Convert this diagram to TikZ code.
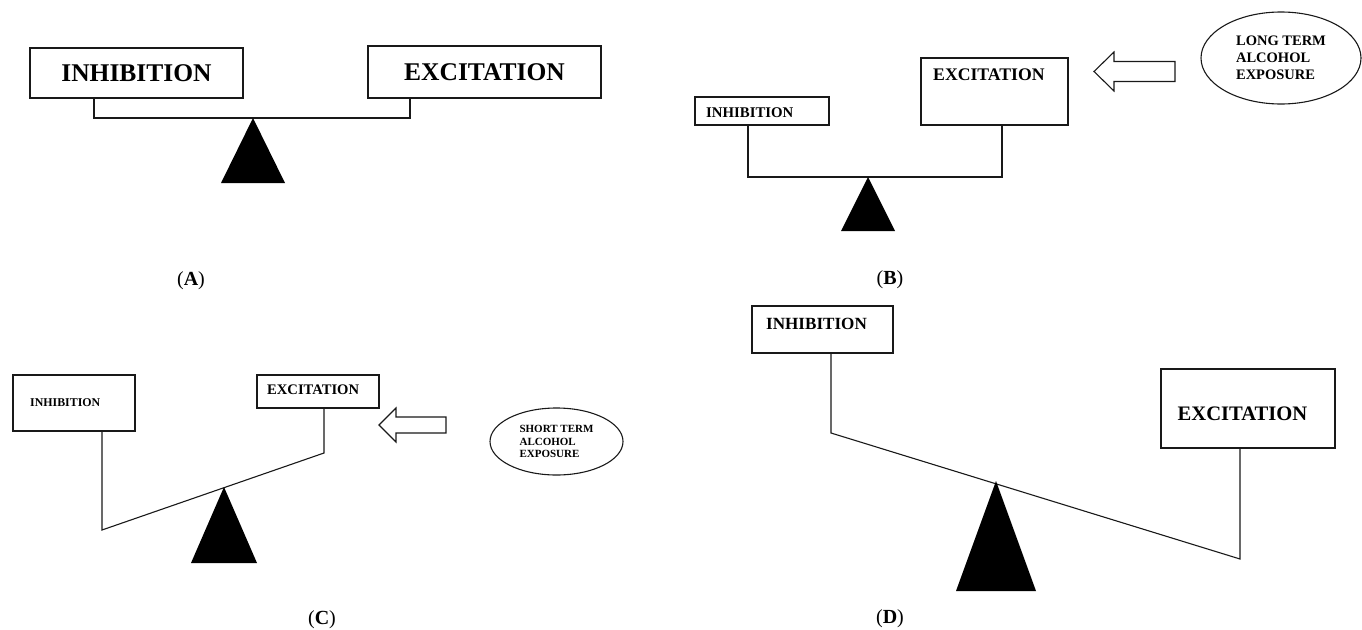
\documentclass[tikz,border=0pt]{standalone}
\usepackage{fontspec}
\setmainfont{Liberation Serif}
\usetikzlibrary{shapes.geometric}

\begin{document}
\begin{tikzpicture}[
        x = 1pt,
        y = -1pt
    ]

        \definecolor{fulcrum}{RGB}{0,0,0}
        \definecolor{scaleline}{RGB}{25,25,25}

        \tikzset{%
            scalebox/.style = {%
                rectangle,
                draw       = scaleline,
                line width = 1.1pt,
                inner sep  = 0pt
            },
            boxtext/.style = {%
                inner sep = 0pt,
                font      = \bfseries\fontsize{#1}{#1}\selectfont
            },
            beam/.style = {%
                draw       = scaleline,
                line width = 1.1pt,
                line join  = miter
            },
            exposure/.style = {%
                ellipse,
                draw       = scaleline,
                line width = 1.1pt,
                inner sep  = 0pt,
                align      = left
            },
            hollowarrow/.style = {%
                draw       = scaleline,
                line width = 1.1pt,
                fill       = white
            },
            panellabel/.style = {%
                inner sep = 0pt,
                font      = \fontsize{20}{20}\selectfont
            }
        }

        \useasboundingbox (0, 0) rectangle (1362, 629);

        % (A) balance
        \node[scalebox, line width = 1.8pt, minimum width = 213, minimum height = 50] (inhA) at (136.5, 73) {};
        \node[scalebox, line width = 1.8pt, minimum width = 233, minimum height = 52] (excA) at (484.5, 72) {};
        \node[boxtext = 25.5] (inhAtext) at (inhA.center) {INHIBITION};
        \node[boxtext = 25.5] (excAtext) at (excA.center) {EXCITATION};
        \coordinate (beamAl) at (94, 118);
        \coordinate (beamAr) at (410, 118);
        \draw[beam, line width = 1.6pt] (beamAl |- inhA.south) -- (beamAl) -- (beamAr) -- (beamAr |- excA.south);
        \node[panellabel] (labA) at (191, 281) {(\textbf{A})};

        % (B) long term exposure
        \node[scalebox, minimum width = 134, minimum height = 28] (inhB) at (762, 111) {};
        \node[scalebox, minimum width = 147, minimum height = 67] (excB) at (994.5, 91.5) {};
        \node[boxtext = 14.8, anchor = west] (inhBtext) at (706, 113) {INHIBITION};
        \node[boxtext = 17.7, anchor = west] (excBtext) at (933, 75) {EXCITATION};
        \coordinate (beamBl) at (748, 177);
        \coordinate (beamBr) at (1002, 177);
        \draw[beam] (beamBl |- inhB.south) -- (beamBl) -- (beamBr) -- (beamBr |- excB.south);
        \node[exposure, minimum width = 160, minimum height = 92,
            font = \bfseries\fontsize{14.5}{17}\selectfont] (longB) at (1281, 58)
            {LONG TERM\\ALCOHOL\\EXPOSURE};
        \node[panellabel] (labB) at (890, 280) {(\textbf{B})};

        % (C) short term exposure
        \node[scalebox, minimum width = 122, minimum height = 56] (inhC) at (74, 403) {};
        \node[scalebox, minimum width = 122, minimum height = 33] (excC) at (318, 391.5) {};
        \node[boxtext = 11.9, anchor = west] (inhCtext) at (30, 403) {INHIBITION};
        \node[boxtext = 14.6, anchor = west] (excCtext) at (267, 390) {EXCITATION};
        \coordinate (beamCl) at (102, 530);
        \coordinate (beamCr) at (324, 453);
        \draw[beam] (beamCl |- inhC.south) -- (beamCl) -- (beamCr) -- (beamCr |- excC.south);
        \node[exposure, minimum width = 133, minimum height = 67,
            font = \bfseries\fontsize{11}{12.7}\selectfont] (shortC) at (556.5, 441.5)
            {SHORT TERM\\ALCOHOL\\EXPOSURE};
        \node[panellabel] (labC) at (322, 620) {(\textbf{C})};

        % (D) tipped balance
        \node[scalebox, minimum width = 141, minimum height = 47] (inhD) at (822.5, 329.5) {};
        \node[scalebox, minimum width = 174, minimum height = 79] (excD) at (1248, 408.5) {};
        \node[boxtext = 17.1] (inhDtext) at (816.5, 324) {INHIBITION};
        \node[boxtext = 20.6] (excDtext) at (1242.5, 414) {EXCITATION};
        \coordinate (beamDl) at (831, 433);
        \coordinate (beamDr) at (1240, 559);
        \draw[beam] (beamDl |- inhD.south) -- (beamDl) -- (beamDr) -- (beamDr |- excD.south);
        \node[panellabel] (labD) at (890, 619) {(\textbf{D})};

        % fulcrums
        \foreach \ax/\ay/\hw/\by in {253/118/32/183, 868/177/27/231, 224/487/33/563, 996/481/40/591} {
            \fill[fulcrum] (\ax, \ay) -- (\ax - \hw, \by) -- (\ax + \hw, \by) -- cycle;
        }

        % hollow arrows towards the excitation boxes
        \foreach \tx/\ty/\hx/\ex/\hh/\sh in {1094/71.5/1114/1175/19.5/10, 379/425/396/446/17/8} {
            \draw[hollowarrow] (\tx, \ty) -- (\hx, \ty - \hh) -- (\hx, \ty - \sh) -- (\ex, \ty - \sh)
                -- (\ex, \ty + \sh) -- (\hx, \ty + \sh) -- (\hx, \ty + \hh) -- cycle;
        }

    \end{tikzpicture}
\end{document}
